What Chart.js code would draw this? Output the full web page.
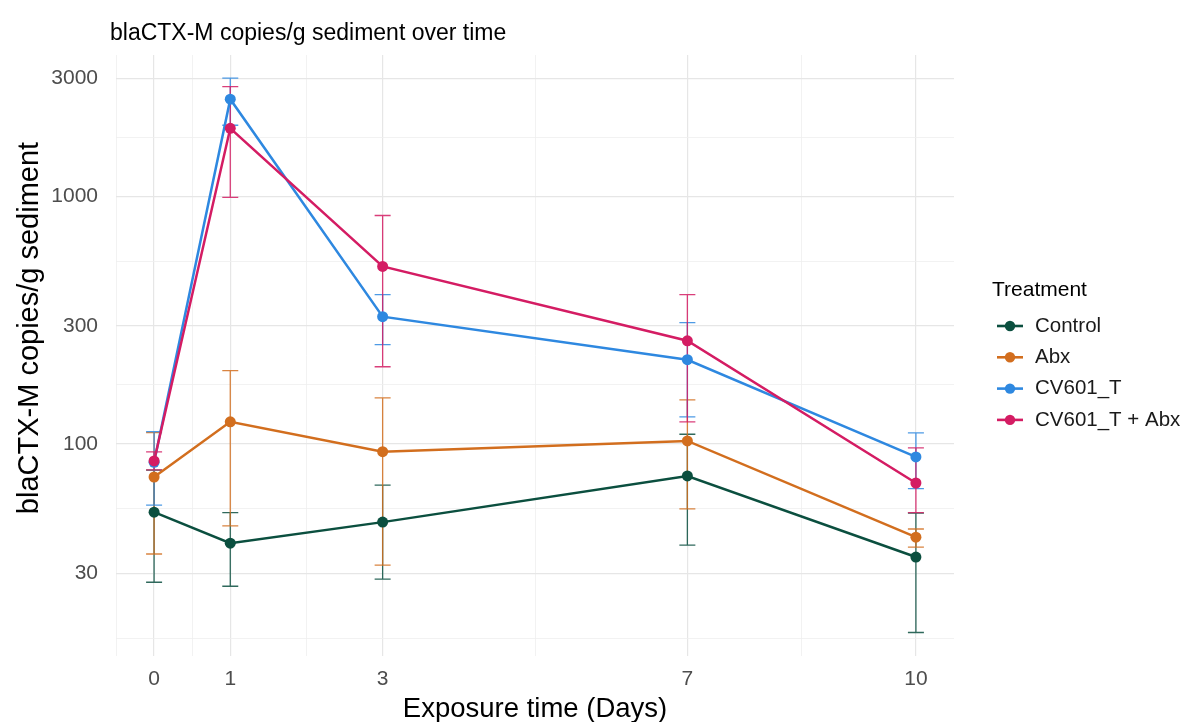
<!DOCTYPE html>
<html>
<head>
<meta charset="utf-8">
<script src="https://cdn.jsdelivr.net/npm/chart.js@4/dist/chart.umd.min.js"></script>
<style>
html,body{margin:0;padding:0;background:#fff;}
#wrap{width:1188px;height:722px;position:relative;}
</style>
</head>
<body>
<div id="wrap"><canvas id="c" width="1188" height="722"></canvas></div>
<script>
// ---- data ----
const days = [0, 1, 3, 7, 10];
const seriesNames = ['Control', 'Abx', 'CV601_T', 'CV601_T + Abx'];

const controlMean = [53, 39.7, 48.3, 74.2, 34.9];
const controlLow  = [27.6, 26.6, 28.4, 39.0, 17.3];
const controlHigh = [78.4, 52.8, 68.2, 109.4, 52.5];

const abxMean = [73.5, 122.8, 93, 102.8, 42.0];
const abxLow  = [35.9, 46.6, 32.4, 54.6, 38.3];
const abxHigh = [111, 197.6, 153.5, 150.7, 45.3];

const cvMean = [84.3, 2470, 326.6, 218.8, 88.6];
const cvLow  = [56.6, 1938, 252, 128.6, 66.0];
const cvHigh = [112, 3006, 401, 309, 110.8];

const cvAbxMean = [85.3, 1884, 521, 261, 69.5];
const cvAbxLow  = [78.5, 990, 205, 122.8, 52.8];
const cvAbxHigh = [92.9, 2778, 837, 401, 96.4];

const xMajorTicks = [0, 1, 3, 7, 10];
const xMinorTicks = [-0.5, 0.5, 2, 5, 8.5];
const yMajorTicks = [30, 100, 300, 1000, 3000];
const yMinorTicks = [16.43, 54.77, 173.2, 547.7, 1732];

const colors = ['#0B4F3F', '#D26E1E', '#2E88E0', '#D41C63'];

const chartTitle = 'blaCTX-M copies/g sediment over time';
const xTitle = 'Exposure time (Days)';
const yTitle = 'blaCTX-M copies/g sediment';
const legendTitle = 'Treatment';

// ---- build datasets ----
const means = [controlMean, abxMean, cvMean, cvAbxMean];
const lows = [controlLow, abxLow, cvLow, cvAbxLow];
const highs = [controlHigh, abxHigh, cvHigh, cvAbxHigh];

const FONT = "'Liberation Sans', Arial, sans-serif";

const datasets = seriesNames.map((name, i) => ({
  label: name,
  data: days.map((d, k) => ({x: d, y: means[i][k]})),
  errLow: lows[i],
  errHigh: highs[i],
  borderColor: colors[i],
  backgroundColor: colors[i],
  borderWidth: 2.5,
  pointRadius: 5.5,
  pointHoverRadius: 5.5,
  pointBorderWidth: 0,
  tension: 0,
  order: seriesNames.length - i
}));

const errorBarPlugin = {
  id: 'errorBars',
  beforeDatasetsDraw(chart) {
    const ctx = chart.ctx;
    const xs = chart.scales.x, ys = chart.scales.y;
    ctx.save();
    chart.data.datasets.forEach((ds) => {
      ctx.strokeStyle = ds.borderColor;
      ctx.globalAlpha = 0.85;
      ctx.lineWidth = 1.3;
      ds.data.forEach((p, k) => {
        const x = xs.getPixelForValue(p.x);
        const y1 = ys.getPixelForValue(ds.errLow[k]);
        const y2 = ys.getPixelForValue(ds.errHigh[k]);
        const hw = 8;
        ctx.beginPath();
        ctx.moveTo(x, y1); ctx.lineTo(x, y2);
        ctx.moveTo(x - hw, y1); ctx.lineTo(x + hw, y1);
        ctx.moveTo(x - hw, y2); ctx.lineTo(x + hw, y2);
        ctx.stroke();
      });
    });
    ctx.restore();
  }
};

const textPlugin = {
  id: 'texts',
  afterDraw(chart) {
    const ctx = chart.ctx;
    ctx.save();
    // chart title
    ctx.fillStyle = '#000';
    ctx.textBaseline = 'middle';
    ctx.textAlign = 'left';
    ctx.font = '23px ' + FONT;
    ctx.fillText(chartTitle, 110, 34);
    // y axis title
    ctx.save();
    ctx.translate(30, 328);
    ctx.rotate(-Math.PI / 2);
    ctx.textAlign = 'center';
    ctx.font = '29px ' + FONT;
    ctx.fillText(yTitle, 0, 0);
    ctx.restore();
    // legend
    ctx.textAlign = 'left';
    ctx.font = '21px ' + FONT;
    ctx.fillText(legendTitle, 992, 290);
    const y0 = 326, dy = 31.3;
    chart.data.datasets.forEach((ds, i) => {
      const y = y0 + i * dy;
      ctx.strokeStyle = ds.borderColor;
      ctx.fillStyle = ds.borderColor;
      ctx.lineWidth = 2.6;
      ctx.beginPath(); ctx.moveTo(997, y); ctx.lineTo(1023, y); ctx.stroke();
      ctx.beginPath(); ctx.arc(1010, y, 5.2, 0, Math.PI * 2); ctx.fill();
      ctx.fillStyle = '#1a1a1a';
      ctx.font = '20.5px ' + FONT;
      ctx.fillText(ds.label, 1035, y);
    });
    ctx.restore();
  }
};

new Chart(document.getElementById('c'), {
  type: 'line',
  data: {datasets},
  options: {
    responsive: false,
    animation: false,
    devicePixelRatio: 1,
    layout: {padding: {top: 55, right: 234, bottom: 0, left: 0}},
    plugins: {
      legend: {display: false},
      tooltip: {enabled: false}
    },
    scales: {
      x: {
        type: 'linear',
        min: -0.5,
        max: 10.5,
        afterBuildTicks(scale) {
          scale.ticks = xMajorTicks.concat(xMinorTicks).map(v => ({value: v}));
        },
        afterFit(scale) { scale.height = 66; },
        ticks: {
          autoSkip: false,
          maxRotation: 0,
          padding: 11,
          color: '#4d4d4d',
          font: {family: FONT, size: 21},
          callback: (v) => xMajorTicks.includes(v) ? String(v) : ''
        },
        grid: {
          drawTicks: false,
          color: (c) => (c.tick && xMajorTicks.includes(c.tick.value)) ? '#e6e6e6' : '#efefef',
          lineWidth: (c) => (c.tick && xMajorTicks.includes(c.tick.value)) ? 1.2 : 0.8
        },
        border: {display: false},
        title: {
          display: true,
          text: xTitle,
          color: '#000',
          font: {family: FONT, size: 27.5, lineHeight: 0.9},
          padding: {top: 0, bottom: 0}
        }
      },
      y: {
        type: 'logarithmic',
        min: 13.9,
        max: 3726,
        afterBuildTicks(scale) {
          scale.ticks = yMajorTicks.concat(yMinorTicks).map(v => ({value: v}));
        },
        afterFit(scale) { scale.width = 116; },
        ticks: {
          autoSkip: false,
          padding: 18,
          color: '#4d4d4d',
          font: {family: FONT, size: 21},
          callback: (v) => yMajorTicks.includes(v) ? String(v) : ''
        },
        grid: {
          drawTicks: false,
          color: (c) => (c.tick && yMajorTicks.includes(c.tick.value)) ? '#e6e6e6' : '#efefef',
          lineWidth: (c) => (c.tick && yMajorTicks.includes(c.tick.value)) ? 1.2 : 0.8
        },
        border: {display: false},
        title: {display: false}
      }
    }
  },
  plugins: [errorBarPlugin, textPlugin]
});
</script>
</body>
</html>
